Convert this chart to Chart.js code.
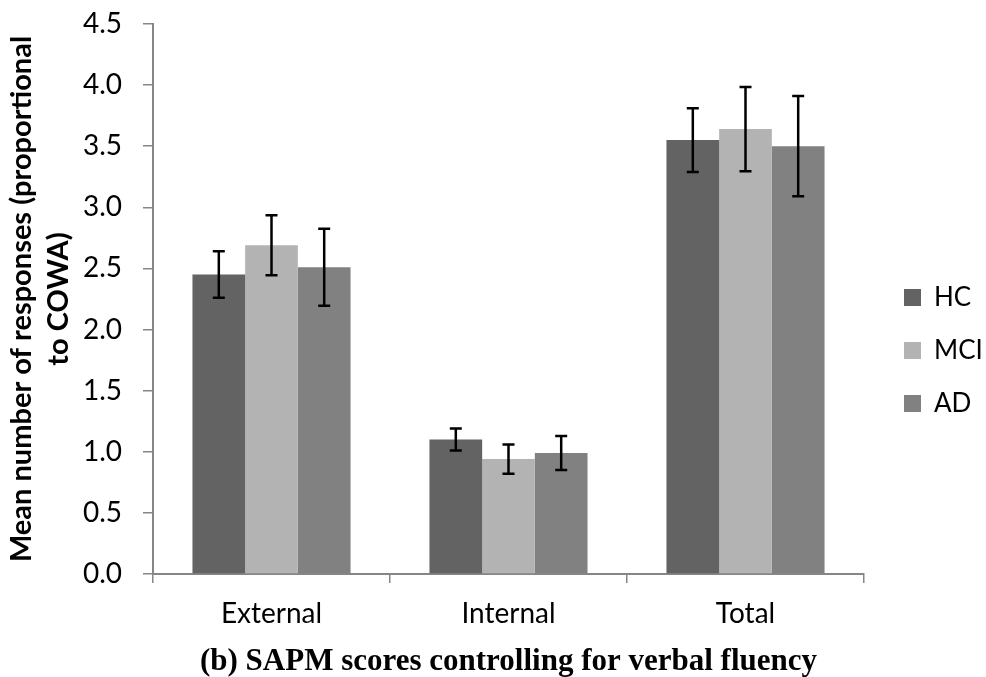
<!DOCTYPE html>
<html>
<head>
<meta charset="utf-8">
<script src="https://cdn.jsdelivr.net/npm/chart.js@4.4.1/dist/chart.umd.min.js"></script>
<style>
  html, body { margin: 0; padding: 0; background: #ffffff; }
  canvas { display: block; }
</style>
</head>
<body>
<canvas id="chart" width="986" height="677"></canvas>
<script>
// Mean responses per group, proportional to COWA
const categories = ['External', 'Internal', 'Total'];
const groupNames = ['HC', 'MCI', 'AD'];
const hcMeans  = [2.45, 1.10, 3.55];
const mciMeans = [2.69, 0.94, 3.64];
const adMeans  = [2.51, 0.99, 3.50];
// Error bar half-widths
const hcErrors  = [0.19, 0.09, 0.26];
const mciErrors = [0.245, 0.12, 0.345];
const adErrors  = [0.315, 0.14, 0.41];
// Y axis tick values
const yTickValues = [0, 0.5, 1.0, 1.5, 2.0, 2.5, 3.0, 3.5, 4.0, 4.5];

const groupColors = ['#636363', '#b3b3b3', '#818181'];
const axisColor = '#868686';
const meansByGroup = [hcMeans, mciMeans, adMeans];
const errorsByGroup = [hcErrors, mciErrors, adErrors];

// Plot frame
const PLOT_LEFT = 153, PLOT_RIGHT = 864, PLOT_TOP = 24, PLOT_BOTTOM = 574;
const CANVAS_W = 986, CANVAS_H = 677;

const errorBars = {
  id: 'errorBars',
  afterDatasetsDraw(chart) {
    const ctx = chart.ctx;
    const yScale = chart.scales.y;
    ctx.save();
    ctx.strokeStyle = '#000000';
    ctx.lineWidth = 2.5;
    chart.data.datasets.forEach((ds, i) => {
      const meta = chart.getDatasetMeta(i);
      meta.data.forEach((bar, j) => {
        const m = meansByGroup[i][j];
        const e = errorsByGroup[i][j];
        const x = bar.x;
        const yHi = yScale.getPixelForValue(m + e);
        const yLo = yScale.getPixelForValue(m - e);
        const cap = 6;
        ctx.beginPath();
        ctx.moveTo(x, yHi); ctx.lineTo(x, yLo);
        ctx.moveTo(x - cap, yHi); ctx.lineTo(x + cap, yHi);
        ctx.moveTo(x - cap, yLo); ctx.lineTo(x + cap, yLo);
        ctx.stroke();
      });
    });
    ctx.restore();
  }
};

// Legend keeps a fixed width and sits a little away from the plot
const legendPlacement = {
  id: 'legendPlacement',
  beforeLayout(chart) {
    const lg = chart.legend;
    if (lg && !lg._fixedWidth) {
      const fit = lg.fit.bind(lg);
      lg.fit = function () { fit(); this.width = CANVAS_W - PLOT_RIGHT; };
      lg._fixedWidth = true;
    }
  },
  afterLayout(chart) {
    const lg = chart.legend;
    if (!lg) return;
    const dx = 13;
    lg.left += dx; lg.right += dx;
  }
};

new Chart(document.getElementById('chart'), {
  type: 'bar',
  data: {
    labels: categories,
    datasets: groupNames.map((name, i) => ({
      label: name,
      data: meansByGroup[i],
      backgroundColor: groupColors[i],
      borderWidth: 0,
      barPercentage: 1.0,
      categoryPercentage: 0.667
    }))
  },
  options: {
    responsive: false,
    animation: false,
    devicePixelRatio: 1,
    layout: { padding: { top: PLOT_TOP, right: 0, left: 0, bottom: 0 } },
    plugins: {
      legend: {
        position: 'right',
        align: 'center',
        labels: {
          boxWidth: 17,
          boxHeight: 17,
          padding: 27,
          color: '#000000',
          font: { family: 'Lato', size: 26 }
        }
      },
      title: { display: false },
      tooltip: { enabled: false }
    },
    scales: {
      x: {
        afterFit(scale) {
          scale.height = CANVAS_H - PLOT_BOTTOM;
          scale.paddingLeft = 0; scale.paddingRight = 0;
        },
        grid: {
          offset: true,
          drawOnChartArea: false,
          drawTicks: true,
          tickLength: 9,
          color: axisColor,
          lineWidth: 1.5
        },
        border: { color: axisColor, width: 2 },
        ticks: {
          color: '#000000',
          padding: 14,
          maxRotation: 0,
          font: { family: 'Lato', size: 28 }
        },
        title: {
          display: true,
          text: '(b) SAPM scores controlling for verbal fluency',
          color: '#000000',
          font: { family: 'Liberation Serif', size: 31, weight: 'bold', lineHeight: 1.0 },
          padding: { top: 0, bottom: 0 }
        }
      },
      y: {
        min: 0,
        max: 4.5,
        afterBuildTicks(scale) {
          scale.ticks = yTickValues.map(v => ({ value: v }));
        },
        afterFit(scale) {
          scale.width = PLOT_LEFT;
          scale.paddingTop = 0; scale.paddingBottom = 0;
        },
        grid: {
          drawOnChartArea: false,
          drawTicks: true,
          tickLength: 10,
          color: axisColor,
          lineWidth: 1.5
        },
        border: { color: axisColor, width: 2 },
        ticks: {
          color: '#000000',
          padding: 21,
          font: { family: 'Lato', size: 28 },
          callback: (v) => Number(v).toFixed(1)
        },
        title: {
          display: true,
          text: ['Mean number of responses (proportional', 'to COWA)'],
          color: '#000000',
          font: { family: 'Lato', size: 29, weight: 'bold', lineHeight: 1.28 },
          padding: { top: 3, bottom: 0 }
        }
      }
    }
  },
  plugins: [errorBars, legendPlacement]
});
</script>
</body>
</html>
